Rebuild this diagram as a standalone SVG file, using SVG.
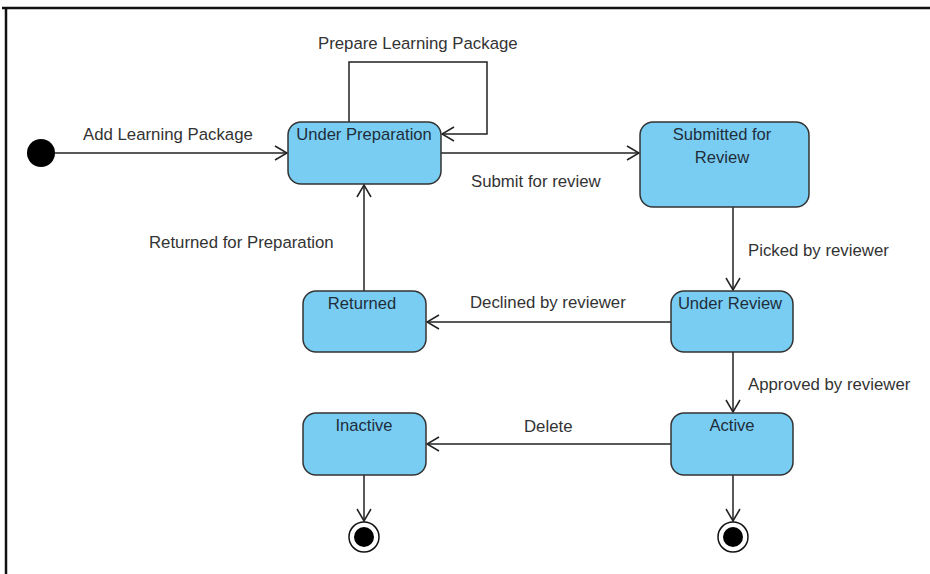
<svg xmlns="http://www.w3.org/2000/svg" width="930" height="574" viewBox="0 0 930 574">
<defs>
<style>
.st{fill:#79cdf3;stroke:#333;stroke-width:1.5}
.nt{font-family:"Liberation Sans",Arial,sans-serif;font-size:16.6px;fill:#1f2d3a;text-anchor:middle}
.lb{font-family:"Liberation Sans",Arial,sans-serif;font-size:16.8px;fill:#333}
.cn{fill:none;stroke:#222;stroke-width:1.5}
</style>
<marker id="ah" markerWidth="14" markerHeight="16" refX="13" refY="8" orient="auto" markerUnits="userSpaceOnUse">
<path d="M1,1 L13,8 L1,15" fill="none" stroke="#222" stroke-width="1.5"/>
</marker>
</defs>
<rect width="930" height="574" fill="#fff"/>
<g id="frame" fill="none" stroke="#111" stroke-width="2.5">
<path d="M2,8 H930 M6,8 V574"/>
</g>
<g id="connectors">
<path class="cn" d="M55,153 H287" marker-end="url(#ah)"/>
<path class="cn" d="M349,122 V62 H487 V134 H442" marker-end="url(#ah)"/>
<path class="cn" d="M441,153 H639" marker-end="url(#ah)"/>
<path class="cn" d="M733,207 V290" marker-end="url(#ah)"/>
<path class="cn" d="M671,322 H427" marker-end="url(#ah)"/>
<path class="cn" d="M364,291 V185" marker-end="url(#ah)"/>
<path class="cn" d="M733,352 V412" marker-end="url(#ah)"/>
<path class="cn" d="M671,444 H427" marker-end="url(#ah)"/>
<path class="cn" d="M364,475 V521" marker-end="url(#ah)"/>
<path class="cn" d="M733,475 V521" marker-end="url(#ah)"/>
<text class="lb" x="83" y="140">Add Learning Package</text>
<text class="lb" x="318" y="49">Prepare Learning Package</text>
<text class="lb" x="471" y="187">Submit for review</text>
<text class="lb" x="748" y="256">Picked by reviewer</text>
<text class="lb" x="470" y="308">Declined by reviewer</text>
<text class="lb" x="149" y="248">Returned for Preparation</text>
<text class="lb" x="748" y="390">Approved by reviewer</text>
<text class="lb" x="524" y="432">Delete</text>
</g>
<g id="initial"><circle cx="41" cy="153" r="14" fill="#000"/></g>
<g id="under-preparation"><rect class="st" x="288" y="122" width="153" height="62" rx="13"/><text class="nt" x="364" y="140">Under Preparation</text></g>
<g id="submitted"><rect class="st" x="640" y="122" width="169" height="85" rx="13"/><text class="nt" x="722" y="140">Submitted for</text><text class="nt" x="722" y="163">Review</text></g>
<g id="under-review"><rect class="st" x="671" y="291" width="122" height="61" rx="13"/><text class="nt" x="730" y="309">Under Review</text></g>
<g id="returned"><rect class="st" x="303" y="291" width="123" height="61" rx="13"/><text class="nt" x="362" y="309">Returned</text></g>
<g id="inactive"><rect class="st" x="303" y="413" width="123" height="62" rx="13"/><text class="nt" x="364" y="431">Inactive</text></g>
<g id="active"><rect class="st" x="671" y="413" width="122" height="62" rx="13"/><text class="nt" x="732" y="431">Active</text></g>
<g id="final-1"><circle cx="364" cy="537" r="15" fill="#fff" stroke="#111" stroke-width="1.5"/><circle cx="364" cy="537" r="10" fill="#000"/></g>
<g id="final-2"><circle cx="733" cy="537" r="15" fill="#fff" stroke="#111" stroke-width="1.5"/><circle cx="733" cy="537" r="10" fill="#000"/></g>
</svg>
